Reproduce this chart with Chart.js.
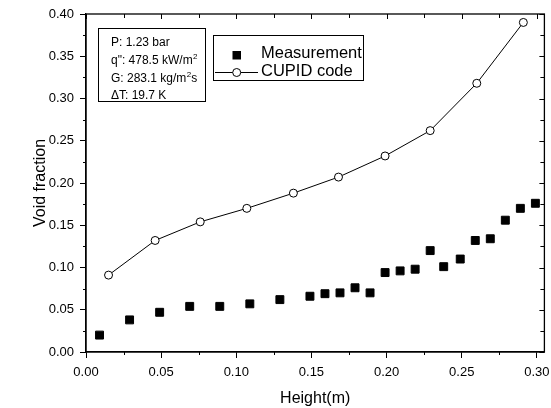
<!DOCTYPE html>
<html>
<head>
<meta charset="utf-8">
<script src="https://cdn.jsdelivr.net/npm/chart.js@4/dist/chart.umd.min.js"></script>
<style>
  html, body { margin: 0; padding: 0; background: #fff; }
  canvas { display: block; }
</style>
</head>
<body>
<canvas id="voidChart" width="551" height="408"></canvas>
<script>
// measured void fraction along the channel
const heightMeas = [0.009, 0.029, 0.049, 0.069, 0.089, 0.109, 0.129, 0.149, 0.159, 0.169, 0.179, 0.189,
                    0.199, 0.209, 0.219, 0.229, 0.238, 0.249, 0.259, 0.269, 0.279, 0.289, 0.299];
const voidMeas = [0.020, 0.038, 0.047, 0.054, 0.054, 0.057, 0.062, 0.066, 0.069, 0.070, 0.076, 0.070,
                  0.094, 0.096, 0.098, 0.120, 0.101, 0.110, 0.132, 0.134, 0.156, 0.170, 0.176];

// CUPID code prediction
const heightCupid = [0.015, 0.046, 0.076, 0.107, 0.138, 0.168, 0.199, 0.229, 0.260, 0.291];
const voidCupid = [0.091, 0.132, 0.154, 0.170, 0.188, 0.207, 0.232, 0.262, 0.318, 0.390];

const xTickValues = [0, 0.05, 0.10, 0.15, 0.20, 0.25, 0.30];
const xTickLabels = ['0.00', '0.05', '0.10', '0.15', '0.20', '0.25', '0.30'];
const yTickValues = [0, 0.05, 0.10, 0.15, 0.20, 0.25, 0.30, 0.35, 0.40];
const yTickLabels = ['0.00', '0.05', '0.10', '0.15', '0.20', '0.25', '0.30', '0.35', '0.40'];

const seriesNames = ['Measurement', 'CUPID code'];
const conditionLines = ['P: 1.23 bar', 'q": 478.5 kW/m', 'G: 283.1 kg/m', '\u0394T: 19.7 K'];

const FONT = '"Liberation Sans", Arial, sans-serif';

// frame, minor ticks, mirrored ticks, info box and legend
const decorations = {
    id: 'decorations',
    afterDraw(chart) {
        const { ctx, chartArea: a, scales: { x, y } } = chart;
        ctx.save();
        ctx.strokeStyle = '#000';
        ctx.lineWidth = 1.3;
        ctx.strokeRect(a.left, a.top, a.right - a.left, a.bottom - a.top);

        ctx.lineWidth = 1;
        ctx.beginPath();
        for (let v = 0; v <= 0.3001; v += 0.025) {
            const px = Math.round(x.getPixelForValue(v)) + 0.5;
            const major = Math.abs(v / 0.05 - Math.round(v / 0.05)) < 1e-6;
            if (!major) {
                ctx.moveTo(px, a.bottom); ctx.lineTo(px, a.bottom + 3);
            }
            ctx.moveTo(px, a.top); ctx.lineTo(px, a.top + (major ? 5 : 4));
        }
        for (let v = 0; v <= 0.4001; v += 0.025) {
            const py = Math.round(y.getPixelForValue(v)) + 0.5;
            const major = Math.abs(v / 0.05 - Math.round(v / 0.05)) < 1e-6;
            if (!major) {
                ctx.moveTo(a.left, py); ctx.lineTo(a.left - 3, py);
            }
            ctx.moveTo(a.right, py); ctx.lineTo(a.right - (major ? 5 : 4), py);
        }
        ctx.stroke();

        // conditions box
        ctx.strokeRect(98.5, 28.5, 107, 73);
        ctx.fillStyle = '#000';
        ctx.textBaseline = 'alphabetic';
        ctx.textAlign = 'left';
        const small = '12px ' + FONT;
        const sup = '8px ' + FONT;
        const baselines = [45.5, 64, 82, 99];
        ctx.font = small;
        ctx.fillText(conditionLines[0], 111, baselines[0]);
        let w = ctx.measureText(conditionLines[1]).width;
        ctx.fillText(conditionLines[1], 111, baselines[1]);
        ctx.font = sup;
        ctx.fillText('2', 111 + w + 0.5, baselines[1] - 5);
        ctx.font = small;
        w = ctx.measureText(conditionLines[2]).width;
        ctx.fillText(conditionLines[2], 111, baselines[2]);
        ctx.font = sup;
        const w2 = ctx.measureText('2').width;
        ctx.fillText('2', 111 + w + 0.5, baselines[2] - 5);
        ctx.font = small;
        ctx.fillText('s', 111 + w + w2 + 0.5, baselines[2]);
        ctx.fillText(conditionLines[3], 111, baselines[3]);

        // legend
        ctx.strokeRect(213.5, 35.5, 150, 45);
        ctx.fillRect(232.5, 51, 8.5, 8.5);
        ctx.beginPath();
        ctx.moveTo(215, 72.5); ctx.lineTo(258, 72.5);
        ctx.stroke();
        ctx.beginPath();
        ctx.arc(236.7, 72.5, 4, 0, Math.PI * 2);
        ctx.fillStyle = '#fff';
        ctx.fill();
        ctx.stroke();
        ctx.fillStyle = '#000';
        ctx.font = '16.5px ' + FONT;
        ctx.fillText(seriesNames[0], 261, 57.5);
        ctx.fillText(seriesNames[1], 261, 75.5);
        ctx.restore();
    }
};

new Chart(document.getElementById('voidChart'), {
    type: 'scatter',
    data: {
        datasets: [{
            label: seriesNames[0],
            data: heightMeas.map((h, i) => ({ x: h, y: voidMeas[i] })),
            pointStyle: 'rect',
            pointRadius: 5.6,
            pointBorderWidth: 1,
            backgroundColor: '#000',
            borderColor: '#000',
            showLine: false
        }, {
            label: seriesNames[1],
            data: heightCupid.map((h, i) => ({ x: h, y: voidCupid[i] })),
            pointStyle: 'circle',
            pointRadius: 4,
            pointBorderWidth: 1,
            pointBackgroundColor: '#fff',
            pointBorderColor: '#000',
            borderColor: '#000',
            borderWidth: 1,
            showLine: true
        }]
    },
    options: {
        responsive: false,
        animation: false,
        layout: { padding: { top: 14, right: 4, left: 0, bottom: 0 } },
        plugins: {
            legend: { display: false },
            tooltip: { enabled: false }
        },
        scales: {
            x: {
                type: 'linear',
                min: 0,
                max: 0.305,
                afterBuildTicks: s => { s.ticks = xTickValues.map(v => ({ value: v })); },
                afterFit: s => {
                    s.height = 56;
                    s.paddingLeft = 0;
                    s.paddingRight = 0;
                },
                ticks: {
                    color: '#000',
                    font: { family: FONT, size: 13 },
                    padding: 7,
                    maxRotation: 0,
                    callback: (v, i) => xTickLabels[i]
                },
                grid: { drawOnChartArea: false, drawTicks: true, tickLength: 6, tickColor: '#000' },
                border: { display: true, color: '#000', width: 1.3 },
                title: {
                    display: true,
                    text: 'Height(m)',
                    color: '#000',
                    font: { family: FONT, size: 16 },
                    padding: { top: 0, bottom: 0 }
                }
            },
            y: {
                type: 'linear',
                min: 0,
                max: 0.4,
                afterBuildTicks: s => { s.ticks = yTickValues.map(v => ({ value: v })); },
                afterFit: s => {
                    s.width = 86;
                    s.paddingTop = 0;
                    s.paddingBottom = 0;
                },
                ticks: {
                    color: '#000',
                    font: { family: FONT, size: 13 },
                    padding: 6,
                    callback: (v, i) => yTickLabels[i]
                },
                grid: { drawOnChartArea: false, drawTicks: true, tickLength: 6, tickColor: '#000' },
                border: { display: true, color: '#000', width: 1.3 },
                title: {
                    display: true,
                    text: 'Void fraction',
                    color: '#000',
                    font: { family: FONT, size: 16 },
                    padding: { top: 31, bottom: 0 }
                }
            }
        }
    },
    plugins: [decorations]
});
</script>
</body>
</html>
